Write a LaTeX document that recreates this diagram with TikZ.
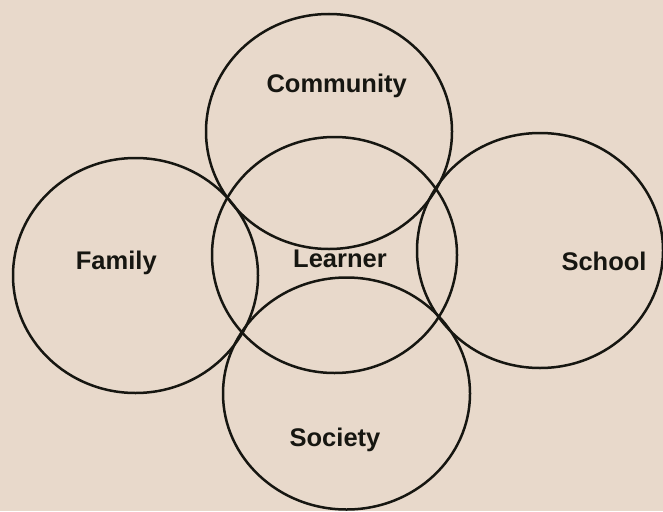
\documentclass[tikz,border=0pt]{standalone}
\usepackage{fontspec}
\setmainfont{Liberation Sans}
\definecolor{bg}{HTML}{E8D9CB}
\definecolor{ink}{HTML}{161611}
\begin{document}
\begin{tikzpicture}[x=1pt,y=-1pt,
  ring/.style={draw=ink,line width=2.5pt},
  lbl/.style={anchor=base,font=\fontsize{25.5}{28}\selectfont\bfseries,text=ink,inner sep=0pt}]
\fill[bg] (0,0) rectangle (663,511);
\useasboundingbox (0,0) rectangle (663,511);
\draw[ring] (329,131.5) ellipse [x radius=123,y radius=117.5];
\draw[ring] (334.5,255) ellipse [x radius=122.5,y radius=118];
\draw[ring] (135.5,275.5) ellipse [x radius=122.5,y radius=117.5];
\draw[ring] (540,250.5) ellipse [x radius=123,y radius=117.5];
\draw[ring] (346.5,393.5) ellipse [x radius=123.5,y radius=116];
\node[lbl] (community) at (336.7,92) {Community};
\node[lbl] (learner) at (340,267) {Learner};
\node[lbl] (family) at (116.3,269.3) {Family};
\node[lbl] (school) at (604,270.7) {School};
\node[lbl] (society) at (335,446) {Society};
\end{tikzpicture}
\end{document}
